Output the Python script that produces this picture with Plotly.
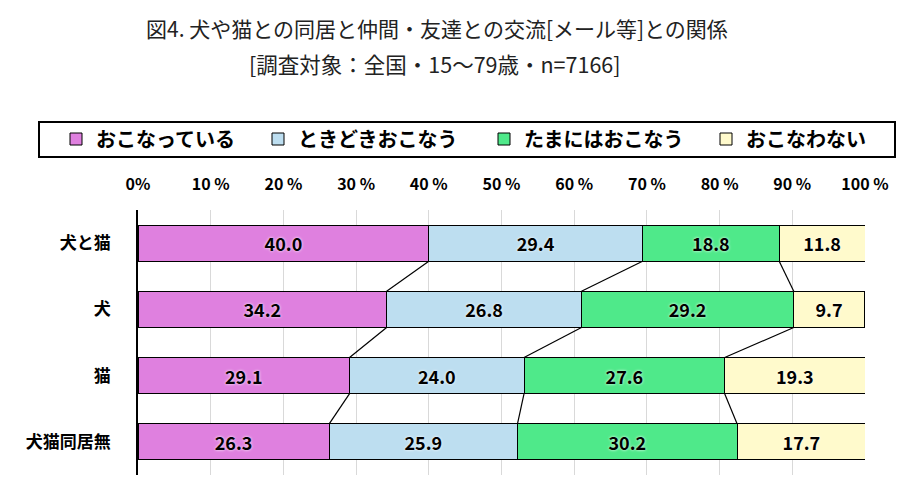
import numpy as np
import plotly.graph_objects as go

# === Data ===
categories = ['犬と猫', '犬', '猫', '犬猫同居無']
series_names = ['おこなっている', 'ときどきおこなう', 'たまにはおこなう', 'おこなわない']
v_often = [40.0, 34.2, 29.1, 26.3]
v_sometimes = [29.4, 26.8, 24.0, 25.9]
v_rarely = [18.8, 29.2, 27.6, 30.2]
v_never = [11.8, 9.7, 19.3, 17.7]
x_ticks = [0, 10, 20, 30, 40, 50, 60, 70, 80, 90, 100]
x_ticktext = ['0%', '10 %', '20 %', '30 %', '40 %', '50 %',
              '60 %', '70 %', '80 %', '90 %', '100 %']

series_values = [v_often, v_sometimes, v_rarely, v_never]
colors = ['#DF80DF', '#BDDEF0', '#4FE98A', '#FFFACC']
legend_widths = [157, 181, 177, 150]

FONT = 'Noto Sans CJK JP'
bar_w = 0.545
ypos = list(range(len(categories)))

# page body has an 8px margin, so lay out in figure pixels = screen - 8
OFF = 8
W, H = 912 - OFF, 488 - OFF
L, R, T, B = 138 - OFF, 865 - OFF, 210 - OFF, 475 - OFF
PW, PH = R - L, B - T


def px(x):
    return (x - OFF - L) / PW


def py(y):
    return (B - (y - OFF)) / PH


fig = go.Figure()

for name, vals, col, lw in zip(series_names, series_values, colors, legend_widths):
    fig.add_trace(go.Bar(
        y=ypos, x=vals, name=name, orientation='h',
        width=bar_w,
        marker=dict(color=col, line=dict(color='black', width=1)),
        text=vals, texttemplate='%{x:.1f}',
        textposition='inside', insidetextanchor='middle',
        textfont=dict(family=FONT, size=18, color='black', weight='bold',
                      shadow='0px 0px 3px white'),
        constraintext='none',
        legendwidth=lw,
        hoverinfo='skip',
    ))

# connector lines between the boundaries of consecutive bars
cum = np.cumsum(np.array(series_values), axis=0)
for k in range(len(series_values) - 1):
    xs, ys = [], []
    for i in range(len(categories) - 1):
        xs += [cum[k][i], cum[k][i + 1], None]
        ys += [i + bar_w / 2, i + 1 - bar_w / 2, None]
    fig.add_trace(go.Scatter(
        x=xs, y=ys, mode='lines',
        line=dict(color='black', width=1.2),
        showlegend=False, hoverinfo='skip',
    ))

fig.update_layout(
    barmode='stack',
    width=W, height=H,
    margin=dict(l=L, r=W - R, t=T, b=H - B),
    paper_bgcolor='white', plot_bgcolor='white',
    font=dict(family=FONT, color='black'),
    title=dict(
        text='図4. 犬や猫との同居と仲間・友達との交流[メール等]との関係',
        x=(437 - OFF) / W, xanchor='center',
        y=1 - (30 - OFF) / H, yanchor='middle',
        font=dict(family=FONT, size=21, color='#222222'),
    ),
    legend=dict(
        orientation='h', entrywidthmode='pixels',
        x=px(56), xanchor='left',
        y=py(139), yanchor='middle',
        font=dict(family=FONT, size=20, color='black', weight='bold'),
        bgcolor='rgba(0,0,0,0)', borderwidth=0,
        traceorder='normal',
    ),
    showlegend=True,
    xaxis=dict(
        side='top', range=[0, 100], tickvals=x_ticks, ticktext=x_ticktext,
        showgrid=True, gridcolor='#D9D9D9', gridwidth=1,
        zeroline=False, showline=False, ticks='',
        tickfont=dict(family=FONT, size=16, color='black', weight='bold'),
        ticklabelstandoff=16, fixedrange=True,
    ),
    yaxis=dict(
        range=[3.5, -0.5], tickvals=ypos, ticktext=categories,
        showgrid=False, zeroline=False,
        showline=True, linecolor='black', linewidth=1.5,
        ticks='', ticklabelstandoff=22,
        tickfont=dict(family=FONT, size=17, color='black', weight='bold'),
        fixedrange=True,
    ),
    shapes=[dict(
        type='rect', xref='paper', yref='paper',
        x0=px(39), x1=px(895), y0=py(157), y1=py(122),
        line=dict(color='black', width=2), fillcolor='rgba(0,0,0,0)',
    )],
    annotations=[dict(
        text='[調査対象：全国・15～79歳・n=7166]',
        xref='paper', yref='paper',
        x=px(435), y=py(64),
        xanchor='center', yanchor='middle', showarrow=False,
        font=dict(family=FONT, size=21.5, color='#222222'),
    )],
)

fig.write_html('out.html')
